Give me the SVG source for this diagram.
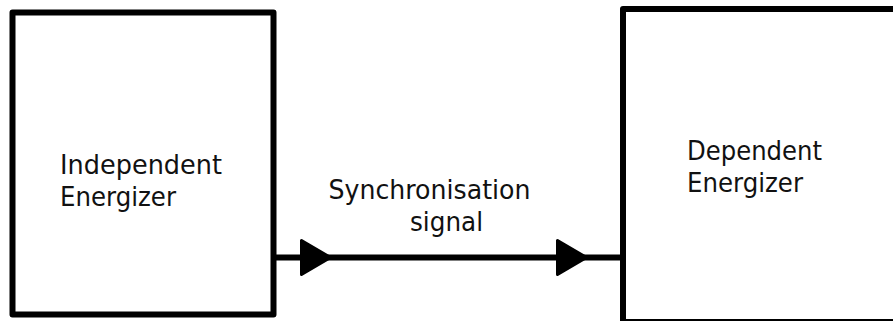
<svg xmlns="http://www.w3.org/2000/svg" width="893" height="321" viewBox="0 0 893 321">
<style>
.box{fill:#fff;stroke:#000;stroke-width:6;stroke-linejoin:round}
.wire{fill:none;stroke:#000;stroke-width:6}
.head{fill:#000;stroke:#000;stroke-width:3;stroke-linejoin:round}
text{font-family:"DejaVu Sans","Liberation Sans",sans-serif;font-size:27px;fill:#111}
</style>
<rect width="893" height="321" fill="#fff"/>
<g id="independent">
<rect class="box" x="12.5" y="12.5" width="261" height="302"/>
<text x="60" y="173.5" textLength="162" lengthAdjust="spacingAndGlyphs">Independent</text>
<text x="60" y="206" textLength="116" lengthAdjust="spacingAndGlyphs">Energizer</text>
</g>
<g id="dependent">
<rect class="box" x="623" y="9" width="300" height="313"/>
<text x="687" y="159.5" textLength="135" lengthAdjust="spacingAndGlyphs">Dependent</text>
<text x="687" y="192" textLength="116" lengthAdjust="spacingAndGlyphs">Energizer</text>
</g>
<g id="connectors">
<line class="wire" x1="273.5" y1="257.5" x2="623" y2="257.5"/>
<polygon class="head" points="301.5,240.5 301.5,274.5 330.5,257.5"/>
<polygon class="head" points="557.5,240.5 557.5,274.5 586.5,257.5"/>
<text x="328.5" y="198.5" textLength="202" lengthAdjust="spacingAndGlyphs">Synchronisation</text>
<text x="410" y="230.5" textLength="73" lengthAdjust="spacingAndGlyphs">signal</text>
</g>
</svg>
